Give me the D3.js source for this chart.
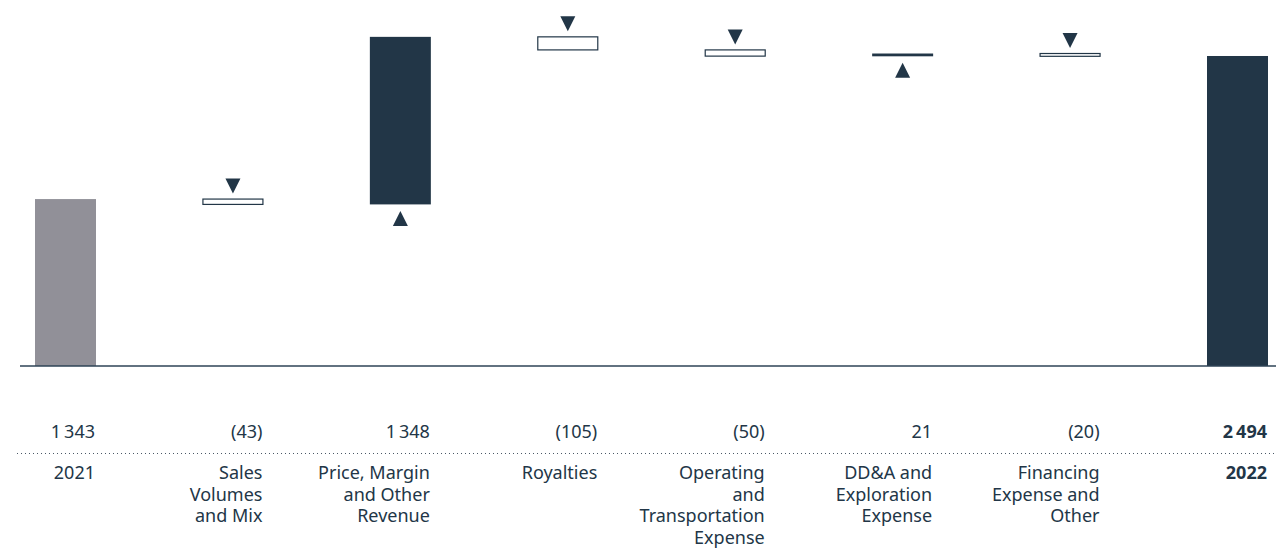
<!DOCTYPE html>
<html>
<head>
<meta charset="utf-8">
<script src="https://cdn.jsdelivr.net/npm/d3@7/dist/d3.min.js"></script>
<style>
  html, body { margin: 0; padding: 0; background: #ffffff; }
  svg { display: block; }
  text { font-family: "Noto Sans", "Open Sans", sans-serif; }
</style>
</head>
<body>
<svg id="chart" width="1276" height="548"></svg>
<script>
// ---- data ----
const categories = ["2021", "Sales Volumes and Mix", "Price, Margin and Other Revenue", "Royalties",
  "Operating and Transportation Expense", "DD&A and Exploration Expense", "Financing Expense and Other", "2022"];
const categoryLines = [
  ["2021"],
  ["Sales", "Volumes", "and Mix"],
  ["Price, Margin", "and Other", "Revenue"],
  ["Royalties"],
  ["Operating", "and", "Transportation", "Expense"],
  ["DD&A and", "Exploration", "Expense"],
  ["Financing", "Expense and", "Other"],
  ["2022"]
];
const values = [1343, -43, 1348, -105, -50, 21, -20, 2494];
const kinds = ["start", "delta", "delta", "delta", "delta", "delta", "delta", "total"];

// ---- layout ----
const W = 1276, H = 548;
const baseY = 366;
const svg = d3.select("#chart");
const dark = "#223647";
const gray = "#919098";

// compute waterfall segments
let run = 0;
const segs = values.map((v, i) => {
  let y0, y1;
  if (kinds[i] === "start" || kinds[i] === "total") { y0 = 0; y1 = v; run = v; }
  else { y0 = run; y1 = run + v; run = y1; }
  return { cat: categories[i], v, kind: kinds[i], lo: Math.min(y0, y1), hi: Math.max(y0, y1), i };
});
const maxV = d3.max(segs, d => d.hi);

const x = d3.scaleBand().domain(categories).range([35, 1268]).paddingInner(0.6357).paddingOuter(0);
const y = d3.scaleLinear().domain([0, maxV]).range([baseY, baseY - maxV * 0.1243]);

const fmtLocale = d3.formatLocale({ decimal: ".", thousands: "\u2009", grouping: [3], currency: ["", ""] });
const fmt = fmtLocale.format(",d");
const label = v => v < 0 ? "(" + fmt(-v) + ")" : fmt(v);

// bars
const minH = 2.8;
svg.append("g").selectAll("rect").data(segs).join("rect")
  .attr("x", d => d.kind === "delta" && d.v < 0 ? x(d.cat) + 0.5 : x(d.cat))
  .attr("width", d => d.kind === "delta" && d.v < 0 ? x.bandwidth() - 1 : x.bandwidth())
  .attr("y", d => y(d.hi))
  .attr("height", d => Math.max(minH, y(d.lo) - y(d.hi)))
  .attr("fill", d => d.kind === "start" ? gray : (d.v < 0 ? "#ffffff" : dark))
  .attr("stroke", d => d.kind === "delta" && d.v < 0 ? dark : "none")
  .attr("stroke-width", 1.2);

// triangles (15 wide, 15 tall)
const tw = 7.5, th = 15;
svg.append("g").selectAll("path").data(segs.filter(d => d.kind === "delta")).join("path")
  .attr("fill", dark)
  .attr("d", d => {
    const cx = x(d.cat) + x.bandwidth() / 2;
    if (d.v < 0) {
      const b = y(d.hi) - 5.5;
      return `M${cx - tw},${b - th}L${cx + tw},${b - th}L${cx},${b}Z`;
    } else {
      const t = Math.max(y(d.lo), y(d.hi) + minH) + 6.5;
      return `M${cx},${t}L${cx + tw},${t + th}L${cx - tw},${t + th}Z`;
    }
  });

// axis baseline
svg.append("line").attr("x1", 20).attr("x2", W).attr("y1", baseY).attr("y2", baseY)
  .attr("stroke", "#2e4356").attr("stroke-width", 1.5);

// value labels
svg.append("g").selectAll("text").data(segs).join("text")
  .attr("x", d => x(d.cat) + x.bandwidth() - 1)
  .attr("y", 438)
  .attr("text-anchor", "end")
  .attr("font-size", 18)
  .attr("font-weight", d => d.kind === "total" ? 700 : 400)
  .attr("fill", dark)
  .text(d => label(d.v));

// dotted separator
svg.append("line").attr("x1", 17).attr("x2", W).attr("y1", 453.5).attr("y2", 453.5)
  .attr("stroke", "#4a5866").attr("stroke-width", 1).attr("stroke-dasharray", "1,3");

// category labels
const cg = svg.append("g").selectAll("text").data(segs).join("text")
  .attr("text-anchor", "end")
  .attr("font-size", 18)
  .attr("font-weight", d => d.kind === "total" ? 700 : 400)
  .attr("fill", dark);
cg.each(function(d) {
  const t = d3.select(this);
  categoryLines[d.i].forEach((ln, k) => {
    t.append("tspan").attr("x", x(d.cat) + x.bandwidth() - 1).attr("y", 479 + k * 21.5).text(ln);
  });
});
</script>
</body>
</html>
